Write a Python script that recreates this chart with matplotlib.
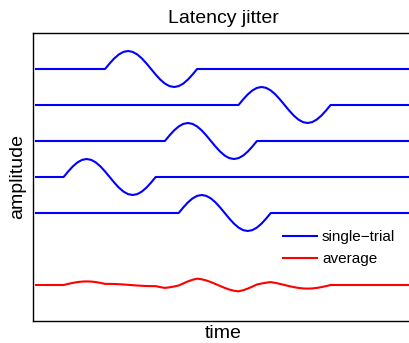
import numpy as np
import matplotlib
matplotlib.use("Agg")
import matplotlib.pyplot as plt

# one period of the single-trial waveform (20 samples)
template = [0.0, 0.309, 0.588, 0.809, 0.951, 1.0, 0.951, 0.809, 0.588, 0.309,
            0.0, -0.309, -0.588, -0.809, -0.951, -1.0, -0.951, -0.809, -0.588, -0.309, 0.0]
n_samples = 82
onsets = [15, 44, 28, 6, 31]          # latency of each trial (samples)
offsets = [0, -2, -4, -6, -8]         # vertical offset of each trial
avg_offset = -12

time = np.arange(n_samples)

trials = []
for onset in onsets:
    y = np.zeros(n_samples)
    y[onset:onset + len(template)] = template
    trials.append(y)
average = np.mean(trials, axis=0)

plt.rcParams['font.family'] = ['Liberation Sans', 'DejaVu Sans']

fig = plt.figure(figsize=(4.10, 3.43), dpi=100)
ax = fig.add_axes([33 / 410, 22 / 343, 380 / 410, 288 / 343])

for i, y in enumerate(trials):
    ax.plot(time, y + offsets[i], color=(0, 0, 1), lw=1.5,
            label="single\u2212trial" if i == 0 else None)
ax.plot(time, average + avg_offset, color=(1, 0, 0), lw=1.5, label="average")

ax.set_xlim(-0.65, 81.9)
ax.set_ylim(-14, 2)
ax.set_xticks([])
ax.set_yticks([])
for s in ax.spines.values():
    s.set_linewidth(1.0)
# right edge of the box is cut off in the reference
ax.spines['right'].set_visible(False)

ax.set_title("Latency jitter", fontsize=14, pad=7)
ax.set_xlabel("time", fontsize=14, labelpad=3)
ax.set_ylabel("amplitude", fontsize=14, labelpad=5)

ax.legend(loc="center left", bbox_to_anchor=(0.658, 0.253), frameon=False,
          fontsize=11, handlelength=2.2, handletextpad=0.35, borderpad=0,
          borderaxespad=0, labelspacing=0.5)

fig.savefig("out.png", dpi=100)
